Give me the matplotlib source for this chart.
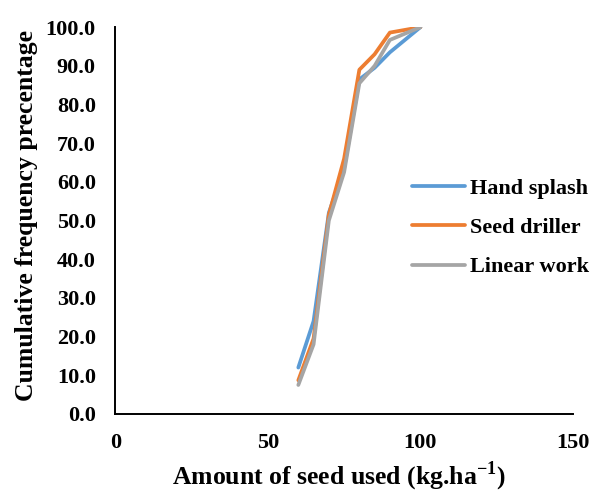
import matplotlib.pyplot as plt
from matplotlib.ticker import FormatStrFormatter

plt.rcParams['font.family'] = ['Liberation Serif', 'DejaVu Serif']
plt.rcParams['font.weight'] = 'bold'
plt.rcParams['mathtext.fontset'] = 'custom'
plt.rcParams['mathtext.rm'] = 'Liberation Serif:bold'
plt.rcParams['mathtext.bf'] = 'Liberation Serif:bold'

# data
seed_amount = [60, 65, 70, 75, 80, 85, 90, 100]
hand_splash = [12.0, 24.0, 52.0, 63.5, 86.5, 89.5, 93.5, 100.0]
seed_driller = [8.7, 19.5, 51.5, 66.0, 89.0, 93.0, 98.6, 100.0]
linear_work = [7.5, 18.0, 50.0, 62.5, 85.5, 90.0, 96.7, 100.0]

fig = plt.figure(figsize=(6, 4.94), dpi=100)
ax = fig.add_axes([0.192, 0.162, 0.763, 0.783])

ax.plot(seed_amount, hand_splash, color="#5B9BD5", lw=2.7, label="Hand splash", solid_capstyle="round")
ax.plot(seed_amount, seed_driller, color="#ED7D31", lw=2.7, label="Seed driller", solid_capstyle="round")
ax.plot(seed_amount, linear_work, color="#A5A5A5", lw=2.7, label="Linear work", solid_capstyle="round")

ax.set_xlim(0, 150)
ax.set_ylim(0, 100)
ax.set_xticks([0, 50, 100, 150])
ax.set_yticks(range(0, 101, 10))
ax.yaxis.set_major_formatter(FormatStrFormatter("%.1f"))
ax.tick_params(length=0, labelsize=16)
ax.tick_params(axis="x", pad=14)
ax.tick_params(axis="y", pad=14)

for s in ["top", "right"]:
    ax.spines[s].set_visible(False)
for s in ["left", "bottom"]:
    ax.spines[s].set_linewidth(1.4)

ax.set_xlabel(r"Amount of seed used (kg.ha$^{\mathrm{-1}}$)", fontsize=18.5, fontweight="bold")
ax.set_ylabel("Cumulative frequency precentage", fontsize=18.5, fontweight="bold")
ax.xaxis.set_label_coords(0.489, -0.118)
ax.yaxis.set_label_coords(-0.168, 0.514)

leg = ax.legend(loc="upper left", bbox_to_anchor=(412 / 600, 1 - 178 / 494),
                bbox_transform=fig.transFigure, frameon=False, borderpad=0,
                borderaxespad=0, prop={"size": 16, "weight": "bold"},
                handlelength=2.4, handletextpad=0.2, labelspacing=0.85)

fig.savefig("out.png", dpi=100)
